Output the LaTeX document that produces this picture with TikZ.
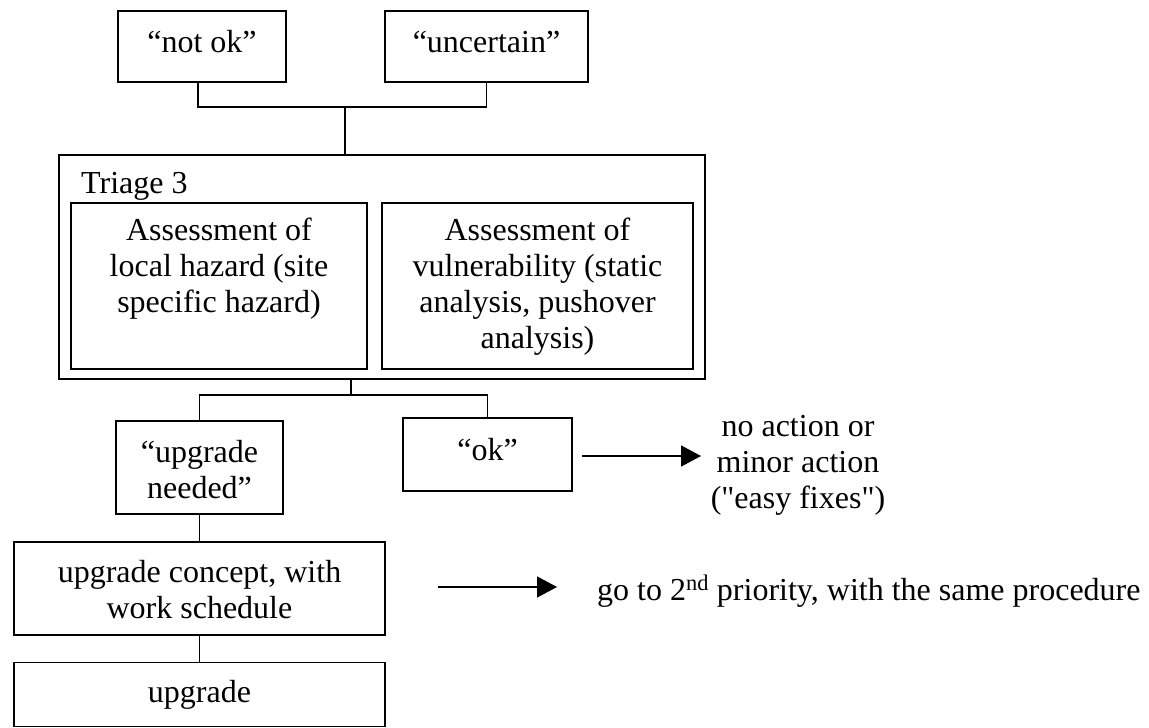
\documentclass[tikz,border=0pt]{standalone}
\usepackage{fontspec}
\setmainfont{Liberation Serif}
% same face without the TeX input mapping, so that " stays a straight quote
\newfontfamily\plainserif{Liberation Serif}
\usetikzlibrary{arrows.meta}
\begin{document}
\begin{tikzpicture}[x=1pt,y=-1pt,
  every node/.style={font=\fontsize{32}{36}\selectfont},
  box/.style={draw,line width=1.5pt,inner sep=0pt},
  txt/.style={inner sep=0pt,align=center,anchor=base},
  link/.style={line width=1.5pt},
  flow/.style={line width=1.5pt,-{Triangle[length=20pt,width=21pt]}}]
\useasboundingbox (0,0) rectangle (1149,728);
% top row of results (text nodes are placed by the baseline of their last line)
\node[box,minimum width=168pt,minimum height=71pt] (notok) at (202,46.5) {};
\node[txt] (notok-t) at (202,52) {``not ok''};
\node[box,minimum width=203pt,minimum height=71pt] (unc) at (486.5,46.5) {};
\node[txt] (unc-t) at (486.5,52) {``uncertain''};
% triage frame with its two assessments
\node[box,minimum width=646pt,minimum height=224pt] (triage) at (382,267) {};
\node[txt,anchor=base west] (tlabel) at (81,193) {Triage 3};
\node[box,minimum width=296pt,minimum height=166pt] (haz) at (219,286) {};
\node[txt] (haz-t) at (219,312) {Assessment of\\local hazard (site\\specific hazard)};
\node[box,minimum width=311pt,minimum height=166pt] (vul) at (537.5,286) {};
\node[txt] (vul-t) at (537.5,348) {Assessment of\\vulnerability (static\\analysis, pushover\\analysis)};
\coordinate (jt) at (345,107);
\draw[link] ([xshift=-4pt]notok.south) |- (jt) -| (unc.south);
\draw[link] (jt) -- (jt |- triage.north);
% outcomes of triage 3
\node[box,minimum width=167pt,minimum height=93pt] (need) at (199.5,467.5) {};
\node[txt] (need-t) at (199.5,498) {``upgrade\\needed''};
\node[box,minimum width=169pt,minimum height=73pt] (ok) at (487.5,454.5) {};
\node[txt] (ok-t) at (487.5,460) {``ok''};
\coordinate (jb) at (351,395);
\draw[link] (jb |- triage.south) -- (jb);
\draw[link] (need.north) |- (jb) -| (ok.north);
\node[txt,font=\fontsize{32}{36}\plainserif] (noact) at (798,508) {no action or\\minor action\\("easy fixes")};
\coordinate (a1s) at (582,456);
\coordinate (a1e) at (701,456);
\draw[flow] (a1s) -- (a1e);
% upgrade path
\node[box,minimum width=371pt,minimum height=93pt] (concept) at (199.5,588.5) {};
\node[txt] (concept-t) at (199.5,618) {upgrade concept, with\\work schedule};
\node[box,minimum width=371pt,minimum height=64pt] (upg) at (199.5,694.5) {};
\node[txt] (upg-t) at (199.5,702) {upgrade};
\draw[link] (need.south) -- (concept.north);
\draw[link] (concept.south) -- (upg.north);
\coordinate (a2s) at (438,587);
\coordinate (a2e) at (557,587);
\draw[flow] (a2s) -- (a2e);
\node[txt,anchor=base west] (next) at (597,600) {go to 2\textsuperscript{nd} priority, with the same procedure};
\end{tikzpicture}
\end{document}
